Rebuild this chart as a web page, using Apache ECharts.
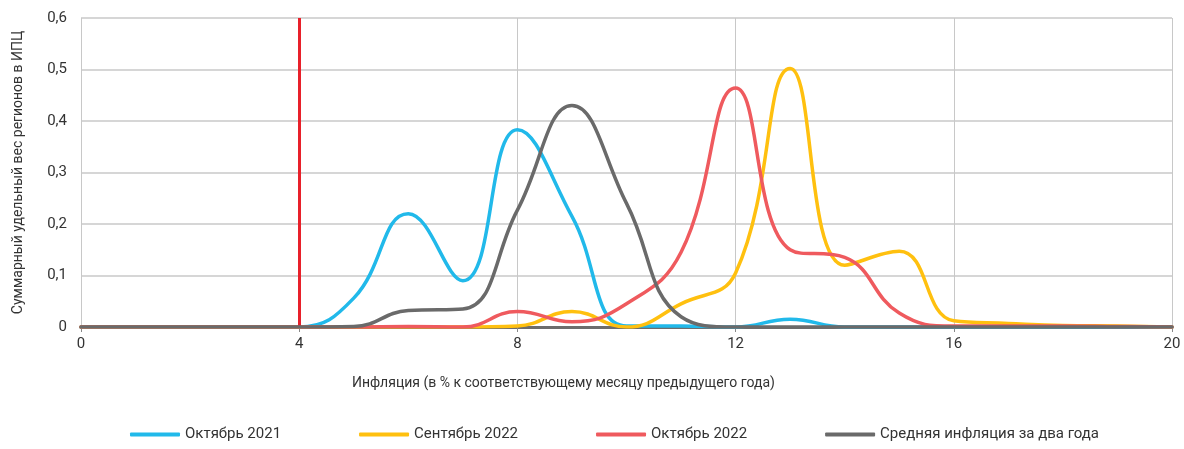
<!DOCTYPE html>
<html>
<head>
<meta charset="utf-8">
<script src="https://cdn.jsdelivr.net/npm/echarts@6/dist/echarts.min.js"></script>
<style>
  html, body { margin: 0; padding: 0; background: #fff; }
  #chart { width: 1184px; height: 449px; }
</style>
</head>
<body>
<div id="chart"></div>
<script>
// inflation, % (x) -> summed weight of regions in CPI (y)
const xValues = [0, 1, 2, 3, 4, 5, 6, 7, 8, 9, 10, 11, 12, 13, 14, 15, 16, 17, 18, 19, 20];
const oct2021 = [0, 0, 0, 0, 0, 0.056, 0.22, 0.09, 0.383, 0.215, 0.002, 0.002, 0, 0.015, 0, 0, 0, 0, 0, 0, 0];
const sep2022 = [0, 0, 0, 0, 0, 0, 0, 0, 0.002, 0.03, 0, 0.045, 0.105, 0.502, 0.12, 0.147, 0.012, 0.007, 0.003, 0.002, 0];
const oct2022 = [0, 0, 0, 0, 0, 0, 0.001, 0, 0.03, 0.01, 0.045, 0.145, 0.464, 0.15, 0.135, 0.027, 0.002, 0.002, 0.002, 0.001, 0];
const avgTwoYears = [0, 0, 0, 0, 0, 0.001, 0.032, 0.035, 0.227, 0.43, 0.24, 0.02, 0, 0, 0, 0, 0, 0, 0, 0, 0];
const seriesNames = ['Октябрь 2021', 'Сентябрь 2022', 'Октябрь 2022', 'Средняя инфляция за два года'];
const colors = ['#21B9EA', '#FFC00F', '#EF5A5E', '#6A6A6A'];
const targetLine = 4;

const fontMain = '"Roboto", sans-serif';

var myChart = echarts.init(document.getElementById('chart'));

function pairs(ys) {
    return xValues.map((x, i) => [x, ys[i]]);
}

var allData = [oct2021, sep2022, oct2022, avgTwoYears];

var series = allData.map((ys, i) => ({
    name: seriesNames[i],
    type: 'line',
    data: pairs(ys),
    smooth: 0.45,
    showSymbol: false,
    z: 2 + i,
    lineStyle: { width: 3.5, color: colors[i], cap: 'round' },
    itemStyle: { color: colors[i] }
}));

// red vertical line at 4%
series.push({
    type: 'line',
    data: [],
    z: 10,
    markLine: {
        silent: true,
        symbol: 'none',
        label: { show: false },
        lineStyle: { color: '#E8202A', width: 3, type: 'solid' },
        data: [{ xAxis: targetLine }]
    }
});

var option = {
    animation: false,
    grid: { left: 81, right: 12, top: 18, bottom: 122 },
    legend: {
        data: seriesNames,
        bottom: 2,
        left: 125,
        itemWidth: 50,
        itemHeight: 4,
        itemGap: 78,
        icon: 'roundRect',
        textStyle: { fontFamily: fontMain, fontSize: 15, color: '#333' }
    },
    xAxis: {
        type: 'value',
        min: 0,
        max: 20,
        interval: 4,
        axisLine: { show: true, lineStyle: { color: '#6d6d6d', width: 3 } },
        axisTick: { show: true, length: 5, lineStyle: { color: '#888' } },
        axisLabel: { fontFamily: fontMain, fontSize: 15, color: '#333', margin: 10 },
        splitLine: { show: true, lineStyle: { color: '#c8c8c8', width: 1 } }
    },
    yAxis: {
        type: 'value',
        min: 0,
        max: 0.6,
        interval: 0.1,
        name: 'Суммарный удельный вес регионов в ИПЦ',
        nameLocation: 'middle',
        nameGap: 56,
        nameTextStyle: { fontFamily: fontMain, fontSize: 14, color: '#333' },
        axisLine: { show: false },
        axisTick: { show: false },
        axisLabel: {
            fontFamily: fontMain, fontSize: 15, color: '#333', margin: 14,
            formatter: v => String(Math.round(v * 10) / 10).replace('.', ',')
        },
        splitLine: { show: true, lineStyle: { color: '#c8c8c8', width: 1.5 } }
    },
    graphic: [{
        type: 'text',
        left: 352,
        top: 376,
        style: {
            text: 'Инфляция (в % к соответствующему месяцу предыдущего года)',
            fontFamily: fontMain,
            fontSize: 14,
            fill: '#333'
        }
    }],
    series: series
};

myChart.setOption(option);
</script>
</body>
</html>
